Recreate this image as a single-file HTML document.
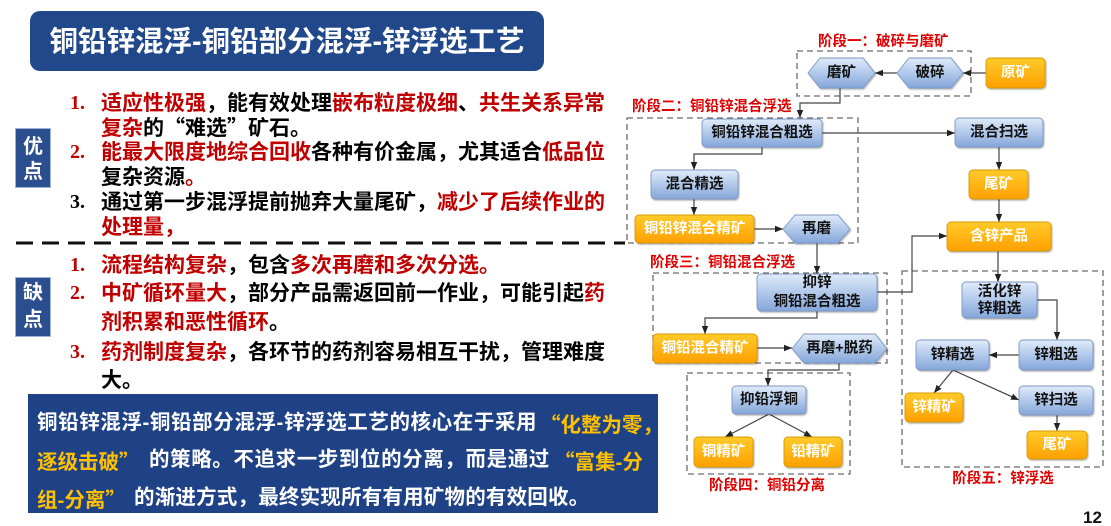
<!DOCTYPE html>
<html><head><meta charset="utf-8">
<style>
html,body{margin:0;padding:0;}
body{width:1111px;height:526px;position:relative;overflow:hidden;background:#fff;font-family:"Liberation Sans","Noto Sans CJK SC",sans-serif;}
.abs{position:absolute;white-space:nowrap;}
.title{left:30px;top:11px;width:514px;height:60px;background:#22488c;border-radius:10px;color:#fff;font-weight:bold;font-size:28.5px;line-height:62px;text-align:center;}
.tag{left:15px;width:36px;height:60px;background:#2b4e8e;border:1px solid #9db3da;box-sizing:border-box;color:#fff;font-weight:bold;font-size:20px;text-align:center;}
.ln{left:101px;font-size:21px;font-weight:bold;color:#000;line-height:25px;}
.num{left:70px;font-family:"Liberation Serif",serif;font-size:20px;font-weight:bold;line-height:25px;color:#c00000;}
.r{color:#c00000;}
.k{color:#000;}
.q{font-family:"Noto Sans CJK SC",sans-serif;}
.box{left:28px;top:394px;width:630px;height:119px;background:#1f4287;}
.bl{font-size:20.5px;font-weight:bold;color:#fff;line-height:30px;}
.y{color:#ffc000;}
</style></head>
<body>
<div class="abs title">铜铅锌混浮-铜铅部分混浮-锌浮选工艺</div>

<div class="abs tag" style="top:128px;line-height:25px;padding-top:6px;">优<br>点</div>
<div class="abs tag" style="top:277px;line-height:27px;padding-top:2px;">缺<br>点</div>

<!-- top list -->
<div class="abs num" style="top:90.5px;">1.</div>
<div class="abs ln" style="top:90.5px;"><span class="r">适应性极强</span>，能有效处理<span class="r">嵌布粒度极细</span>、<span class="r">共生关系异常</span></div>
<div class="abs ln" style="top:115.3px;"><span class="r">复杂</span>的<span class="q">“</span>难选<span class="q">”</span>矿石。</div>
<div class="abs num" style="top:140.1px;">2.</div>
<div class="abs ln" style="top:140.1px;"><span class="r">能最大限度地综合回收</span>各种有价金属，尤其适合<span class="r">低品位</span></div>
<div class="abs ln" style="top:164.9px;">复杂资源<span class="r">。</span></div>
<div class="abs num" style="top:189.7px;color:#000;">3.</div>
<div class="abs ln" style="top:189.7px;">通过第一步混浮提前抛弃大量尾矿，<span class="r">减少了后续作业的</span></div>
<div class="abs ln" style="top:214.5px;"><span class="r">处理量，</span></div>

<!-- bottom list -->
<div class="abs num" style="top:252.5px;">1.</div>
<div class="abs ln" style="top:252.5px;"><span class="r">流程结构复杂</span>，包含<span class="r">多次再磨和多次分选。</span></div>
<div class="abs num" style="top:280.5px;">2.</div>
<div class="abs ln" style="top:280.5px;"><span class="r">中矿循环量大</span>，部分产品需返回前一作业，可能引起<span class="r">药</span></div>
<div class="abs ln" style="top:309.5px;"><span class="r">剂积累和恶性循环</span>。</div>
<div class="abs num" style="top:339.5px;">3.</div>
<div class="abs ln" style="top:339.5px;"><span class="r">药剂制度复杂</span>，各环节的药剂容易相互干扰，管理难度</div>
<div class="abs ln" style="top:367.5px;">大。</div>

<!-- bottom box -->
<div class="abs box"></div>
<div class="abs bl" style="left:37px;top:408px;letter-spacing:0.6px;">铜铅锌混浮-铜铅部分混浮-锌浮选工艺的核心在于采用</div>
<div class="abs bl y" style="left:540px;top:408px;"><span class="q">“</span>化整为零，</div>
<div class="abs bl y" style="left:37px;top:445px;">逐级击破<span class="q">”</span></div>
<div class="abs bl" style="left:149px;top:445px;letter-spacing:0.6px;">的策略。不追求一步到位的分离，而是通过</div>
<div class="abs bl y" style="left:554px;top:445px;"><span class="q">“</span>富集-分</div>
<div class="abs bl y" style="left:37px;top:483px;">组-分离<span class="q">”</span></div>
<div class="abs bl" style="left:134px;top:483px;letter-spacing:0.2px;">的渐进方式，最终实现所有有用矿物的有效回收。</div>

<svg class="abs" style="left:0;top:0;" width="1111" height="526" viewBox="0 0 1111 526" xmlns="http://www.w3.org/2000/svg">
<defs>
<linearGradient id="bg" x1="0" y1="0" x2="0" y2="1"><stop offset="0" stop-color="#e0ebfa"/><stop offset="1" stop-color="#84a6da"/></linearGradient>
<linearGradient id="og" x1="0" y1="0" x2="0" y2="1"><stop offset="0" stop-color="#ffcb2a"/><stop offset="1" stop-color="#ffa000"/></linearGradient>
<marker id="a" viewBox="0 0 10 10" refX="10" refY="5" markerUnits="userSpaceOnUse" markerWidth="8" markerHeight="8" orient="auto"><path d="M0,1 L10,5 L0,9 z" fill="#222"/></marker>
<filter id="sh" x="-10%" y="-10%" width="130%" height="140%"><feDropShadow dx="1" dy="1.2" stdDeviation="0.8" flood-color="#000" flood-opacity="0.3"/></filter>
</defs>

<!-- divider -->
<line x1="16" y1="243" x2="625" y2="243" stroke="#111" stroke-width="3" stroke-dasharray="17 9"/>

<!-- stage dashed boxes -->
<g fill="none" stroke="#6a6a6a" stroke-width="1.3" stroke-dasharray="6 4">
<rect x="797" y="51" width="174" height="45"/>
<rect x="627" y="118" width="231" height="125"/>
<rect x="653" y="273" width="234" height="90"/>
<rect x="687" y="373" width="163" height="101"/>
<rect x="902" y="271" width="201" height="196"/>
</g>

<!-- stage labels -->
<g font-family="Liberation Sans, Noto Sans CJK SC, sans-serif" font-size="14.5" font-weight="bold" fill="#e00000" dominant-baseline="central">
<text x="818" y="42">阶段一：破碎与磨矿</text>
<text x="632" y="107">阶段二：铜铅锌混合浮选</text>
<text x="650" y="263">阶段三：铜铅混合浮选</text>
<text x="767" y="486" text-anchor="middle">阶段四：铜铅分离</text>
<text x="1003" y="479" text-anchor="middle">阶段五：锌浮选</text>
</g>

<!-- connectors -->
<g fill="none" stroke="#444" stroke-width="1.2" marker-end="url(#a)">
<path d="M986,73 H963"/>
<path d="M897,73 H875"/>
<path d="M840,88 V103 H800 V118"/>
<path d="M822,133 H955"/>
<path d="M762,147 V154 H694 V170"/>
<path d="M694,199 V215"/>
<path d="M754,229 H783"/>
<path d="M999,147 V170"/>
<path d="M999,199 V222"/>
<path d="M817,243 V274"/>
<path d="M877,292 H912 V236 H947"/>
<path d="M817,311 V318 H705 V334"/>
<path d="M757,348 H792"/>
<path d="M839,363 V370 H768 V386"/>
<path d="M769,414 L725,437"/>
<path d="M769,414 L812,437"/>
<path d="M998,251 V282"/>
<path d="M1037,300 H1057 V340"/>
<path d="M1019,355 H989"/>
<path d="M953,370 L934,393"/>
<path d="M953,370 L1019,400"/>
<path d="M1057,415 V431"/>
</g>

<!-- blue nodes -->
<g fill="url(#bg)" stroke="#7d98c4" stroke-width="0.9" filter="url(#sh)">
<polygon points="808,73 820,58 863,58 875,73 863,88 820,88"/>
<polygon points="897,73 909,58 951,58 963,73 951,88 909,88"/>
<rect x="702" y="119" width="120" height="28" rx="4"/>
<rect x="955" y="118" width="88" height="29" rx="4"/>
<rect x="651" y="170" width="87" height="29" rx="4"/>
<polygon points="783,229 795,215 838,215 850,229 838,243 795,243"/>
<rect x="757" y="274" width="120" height="37" rx="4"/>
<polygon points="792,348.5 804,334 875,334 887,348.5 875,363 804,363"/>
<rect x="732" y="386" width="74" height="28" rx="4"/>
<rect x="962" y="282" width="75" height="36" rx="4"/>
<rect x="1019" y="340" width="74" height="30" rx="4"/>
<rect x="916" y="340" width="73" height="30" rx="4"/>
<rect x="1019" y="386" width="74" height="29" rx="4"/>
</g>

<!-- orange nodes -->
<g fill="url(#og)" stroke="#d99a00" stroke-width="0.9" filter="url(#sh)">
<rect x="986" y="58" width="59" height="30" rx="4"/>
<rect x="969" y="170" width="59" height="29" rx="4"/>
<rect x="947" y="222" width="104" height="29" rx="4"/>
<rect x="635" y="215" width="119" height="28" rx="4"/>
<rect x="653" y="334" width="104" height="29" rx="4"/>
<rect x="694" y="437" width="59" height="30" rx="4"/>
<rect x="784" y="437" width="58" height="30" rx="4"/>
<rect x="905" y="393" width="58" height="29" rx="4"/>
<rect x="1027" y="431" width="60" height="28" rx="4"/>
</g>

<!-- blue node text -->
<g font-family="Liberation Sans, Noto Sans CJK SC, sans-serif" font-size="14.5" font-weight="bold" fill="#111" text-anchor="middle" dominant-baseline="central">
<text x="841.5" y="73">磨矿</text>
<text x="930" y="73">破碎</text>
<text x="762" y="133">铜铅锌混合粗选</text>
<text x="999" y="132.5">混合扫选</text>
<text x="694.5" y="184.5">混合精选</text>
<text x="816.5" y="229">再磨</text>
<text x="817" y="283">抑锌</text>
<text x="817" y="302">铜铅混合粗选</text>
<text x="839.5" y="348.5">再磨+脱药</text>
<text x="769" y="400">抑铅浮铜</text>
<text x="999.5" y="292">活化锌</text>
<text x="999.5" y="309">锌粗选</text>
<text x="1056" y="355">锌粗选</text>
<text x="952.5" y="355">锌精选</text>
<text x="1056" y="400.5">锌扫选</text>
</g>

<!-- orange node text -->
<g font-family="Liberation Sans, Noto Sans CJK SC, sans-serif" font-size="14.5" font-weight="bold" fill="#fff" text-anchor="middle" dominant-baseline="central">
<text x="1015.5" y="73">原矿</text>
<text x="998.5" y="184.5">尾矿</text>
<text x="999" y="236.5">含锌产品</text>
<text x="694.5" y="229">铜铅锌混合精矿</text>
<text x="705" y="348.5">铜铅混合精矿</text>
<text x="723.5" y="452">铜精矿</text>
<text x="813" y="452">铅精矿</text>
<text x="934" y="407.5">锌精矿</text>
<text x="1057" y="445">尾矿</text>
</g>

<text x="1083" y="523" font-family="Liberation Sans, sans-serif" font-size="17" font-weight="bold" fill="#111">12</text>
</svg>
</body></html>
